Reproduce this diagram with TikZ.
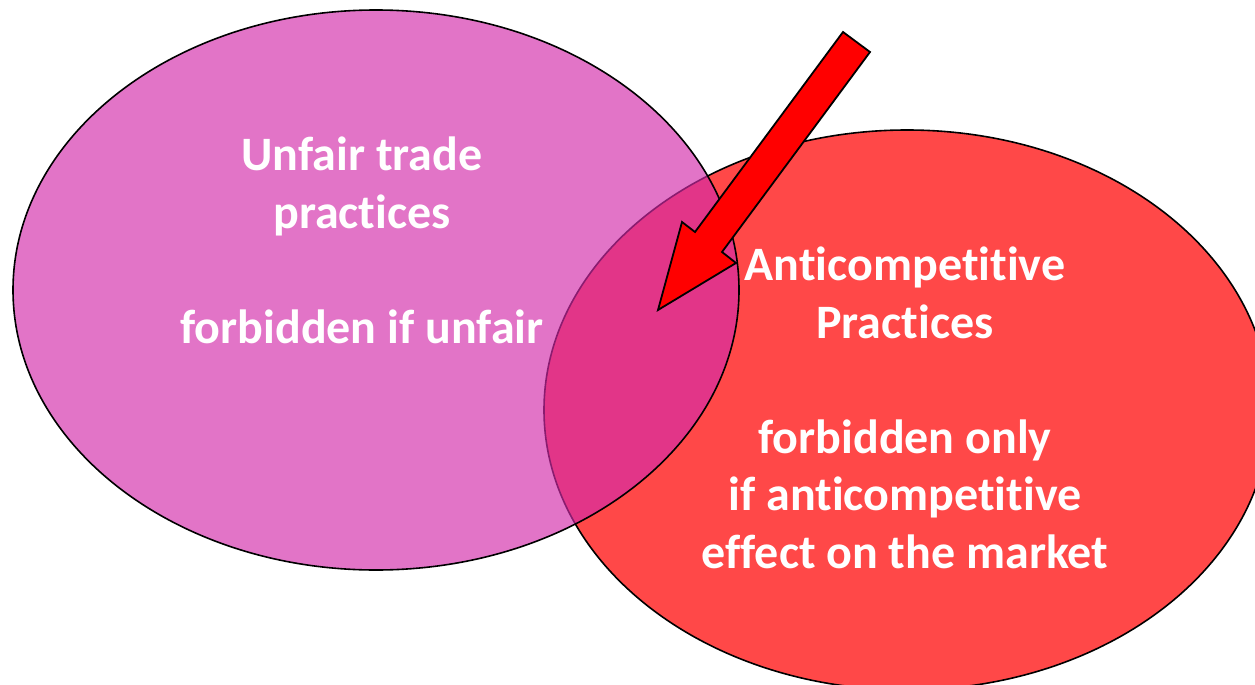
\documentclass[tikz,border=0pt]{standalone}
\usepackage{fontspec}
\setmainfont{Carlito}[Ligatures=CommonOff]
\usetikzlibrary{shapes.geometric}
\definecolor{redfill}{RGB}{255,72,72}
\definecolor{magfill}{RGB}{211,43,171}
\definecolor{arrowred}{RGB}{255,0,0}
\tikzset{
  blob/.style={ellipse, inner sep=0pt, minimum width=726pt, minimum height=560pt, line width=1.6pt, draw=black},
  label/.style={text=white, font=\bfseries\fontsize{48}{57.5}\selectfont, align=center, inner sep=0pt},
}
\begin{document}
\begin{tikzpicture}[x=1pt,y=-1pt]
  \clip (0,0) rectangle (1255,685);
  \fill[white] (0,0) rectangle (1255,685);
  \node[blob, fill=redfill] (right) at (907,410) {};
  \node[blob, fill=magfill, fill opacity=0.656] (left) at (376,290) {};
  \draw[line width=1.8pt, fill=arrowred, line join=miter]
    (843,32) -- (870,52) -- (722,252) -- (736,263) -- (658,310) -- (682,222) -- (695,232) -- cycle;
  \node[label, anchor=base] (lefttext) at (362,343) {Unfair trade\\practices\ \\[57.5pt]forbidden if unfair};
  \node[label, anchor=base] (righttext) at (905,568) {Anticompetitive\\Practices\\[57.5pt]forbidden only\\if anticompetitive\\effect on the market};
\end{tikzpicture}
\end{document}
